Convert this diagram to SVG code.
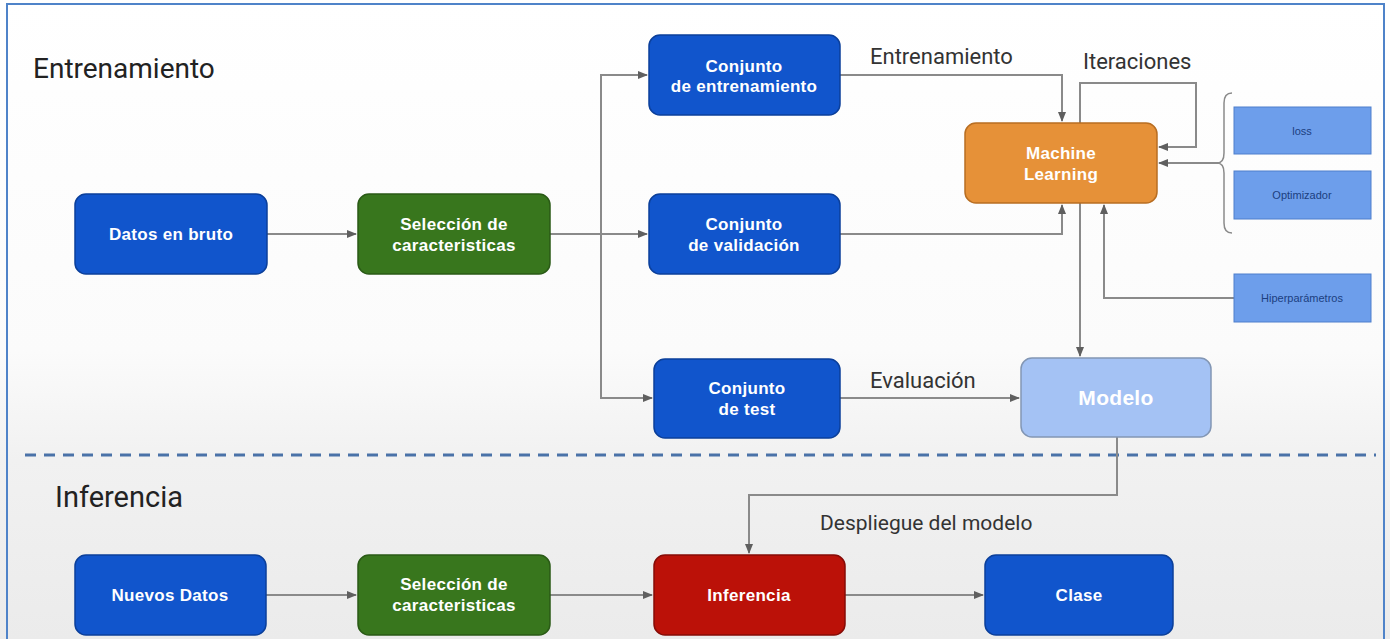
<svg xmlns="http://www.w3.org/2000/svg" width="1390" height="639" viewBox="0 0 1390 639">
  <defs>
    <linearGradient id="bg" x1="0" y1="0" x2="0" y2="1">
      <stop offset="0" stop-color="#ffffff"/>
      <stop offset="0.55" stop-color="#fbfbfb"/>
      <stop offset="0.72" stop-color="#f1f1f1"/>
      <stop offset="1" stop-color="#ebebeb"/>
    </linearGradient>
    <marker id="arr" markerWidth="10" markerHeight="8" refX="9" refY="4" orient="auto" markerUnits="userSpaceOnUse">
      <path d="M0,0 L10,4 L0,8 Z" fill="#5f5f5f"/>
    </marker>
    <style>
      .edge { fill: none; stroke: #8a8a8a; stroke-width: 2; }
      .box { stroke-width: 1.5; }
      .blue { fill: #1155cc; stroke: #0b3f9a; }
      .green { fill: #38761d; stroke: #2a5a16; }
      .orange { fill: #e69138; stroke: #b86e22; }
      .red { fill: #bb1108; stroke: #860b06; }
      .model { fill: #a4c2f4; stroke: #8296b4; }
      .small { fill: #6d9eeb; stroke: #4e7fcc; stroke-width: 1; }
      .lbl { font-family: "Liberation Sans", Arial, sans-serif; font-weight: bold; font-size: 17px; letter-spacing: 0.3px; fill: #ffffff; text-anchor: middle; }
      .tiny { font-family: "Liberation Sans", Arial, sans-serif; font-size: 11px; fill: #1c3f80; text-anchor: middle; }
      .title { font-family: Roboto, "Liberation Sans", sans-serif; font-size: 28px; fill: #222222; }
      .note { font-family: Roboto, "Liberation Sans", sans-serif; font-size: 22px; fill: #333333; }
    </style>
  </defs>

  <!-- canvas and frame -->
  <rect x="0" y="0" width="1390" height="639" fill="url(#bg)"/>
  <rect x="7" y="4" width="1377" height="660" fill="none" stroke="#4f83c9" stroke-width="2"/>

  <!-- section titles -->
  <text class="title" x="33" y="78">Entrenamiento</text>
  <text class="title" x="55" y="507" style="font-size:29px">Inferencia</text>

  <!-- separator between training and inference -->
  <line x1="25" y1="455" x2="1376" y2="455" stroke="#4a72a8" stroke-width="3" stroke-dasharray="11,8"/>

  <!-- connectors -->
  <g id="connectors">
    <path class="edge" d="M267,234 H356" marker-end="url(#arr)"/>
    <path class="edge" d="M550,234 H647" marker-end="url(#arr)"/>
    <path class="edge" d="M601,234 V75 H647" marker-end="url(#arr)"/>
    <path class="edge" d="M601,234 V398 H652" marker-end="url(#arr)"/>
    <path class="edge" d="M840,75 H1062 V121" marker-end="url(#arr)"/>
    <path class="edge" d="M840,234 H1062 V205" marker-end="url(#arr)"/>
    <path class="edge" d="M1080,123 V83 H1196 V147 H1159" marker-end="url(#arr)"/>
    <path class="edge" d="M1218,163 H1159" marker-end="url(#arr)"/>
    <path class="edge" d="M1234,298 H1104 V205" marker-end="url(#arr)"/>
    <path class="edge" d="M1080,203 V356" marker-end="url(#arr)"/>
    <path class="edge" d="M840,398 H1019" marker-end="url(#arr)"/>
    <path class="edge" d="M1117,437 V495 H749 V553" marker-end="url(#arr)"/>
    <path class="edge" d="M266,595 H356" marker-end="url(#arr)"/>
    <path class="edge" d="M550,595 H652" marker-end="url(#arr)"/>
    <path class="edge" d="M845,595 H983" marker-end="url(#arr)"/>
    <!-- curly brace grouping loss and optimizer -->
    <path d="M1232,93 Q1224,93 1224,103 V153 Q1224,163 1217,163 Q1224,163 1224,173 V223 Q1224,233 1232,233" fill="none" stroke="#8a8a8a" stroke-width="1.5"/>
  </g>

  <!-- edge labels -->
  <text class="note" x="870" y="64">Entrenamiento</text>
  <text class="note" x="1083" y="69">Iteraciones</text>
  <text class="note" x="870" y="388">Evaluación</text>
  <text class="note" x="820" y="530" style="font-size:21px">Despliegue del modelo</text>

  <!-- training nodes -->
  <g id="datos-en-bruto">
    <rect class="box blue" x="75" y="194" width="192" height="80" rx="11"/>
    <text class="lbl" x="171" y="240">Datos en bruto</text>
  </g>
  <g id="seleccion-entrenamiento">
    <rect class="box green" x="358" y="194" width="192" height="80" rx="11"/>
    <text class="lbl" x="454" y="230">Selección de</text>
    <text class="lbl" x="454" y="251">caracteristicas</text>
  </g>
  <g id="conjunto-entrenamiento">
    <rect class="box blue" x="649" y="35" width="191" height="80" rx="11"/>
    <text class="lbl" x="744" y="72">Conjunto</text>
    <text class="lbl" x="744" y="92">de entrenamiento</text>
  </g>
  <g id="conjunto-validacion">
    <rect class="box blue" x="649" y="194" width="191" height="80" rx="11"/>
    <text class="lbl" x="744" y="230">Conjunto</text>
    <text class="lbl" x="744" y="251">de validación</text>
  </g>
  <g id="conjunto-test">
    <rect class="box blue" x="654" y="359" width="186" height="79" rx="11"/>
    <text class="lbl" x="747" y="394">Conjunto</text>
    <text class="lbl" x="747" y="415">de test</text>
  </g>
  <g id="machine-learning">
    <rect class="box orange" x="965" y="123" width="192" height="80" rx="11"/>
    <text class="lbl" x="1061" y="159">Machine</text>
    <text class="lbl" x="1061" y="180">Learning</text>
  </g>
  <g id="loss">
    <rect class="small" x="1234" y="107" width="137" height="47"/>
    <text class="tiny" x="1302" y="135">loss</text>
  </g>
  <g id="optimizador">
    <rect class="small" x="1234" y="171" width="137" height="48"/>
    <text class="tiny" x="1302" y="199">Optimizador</text>
  </g>
  <g id="hiperparametros">
    <rect class="small" x="1234" y="274" width="137" height="48"/>
    <text class="tiny" x="1302" y="302">Hiperparámetros</text>
  </g>
  <g id="modelo">
    <rect class="box model" x="1021" y="358" width="190" height="79" rx="11"/>
    <text class="lbl" x="1116" y="405" style="font-size:21px">Modelo</text>
  </g>

  <!-- inference nodes -->
  <g id="nuevos-datos">
    <rect class="box blue" x="75" y="555" width="191" height="80" rx="11"/>
    <text class="lbl" x="170" y="601">Nuevos Datos</text>
  </g>
  <g id="seleccion-inferencia">
    <rect class="box green" x="358" y="555" width="192" height="80" rx="11"/>
    <text class="lbl" x="454" y="590">Selección de</text>
    <text class="lbl" x="454" y="611">caracteristicas</text>
  </g>
  <g id="inferencia">
    <rect class="box red" x="654" y="555" width="191" height="80" rx="11"/>
    <text class="lbl" x="749" y="601">Inferencia</text>
  </g>
  <g id="clase">
    <rect class="box blue" x="985" y="555" width="188" height="80" rx="11"/>
    <text class="lbl" x="1079" y="601">Clase</text>
  </g>
</svg>
